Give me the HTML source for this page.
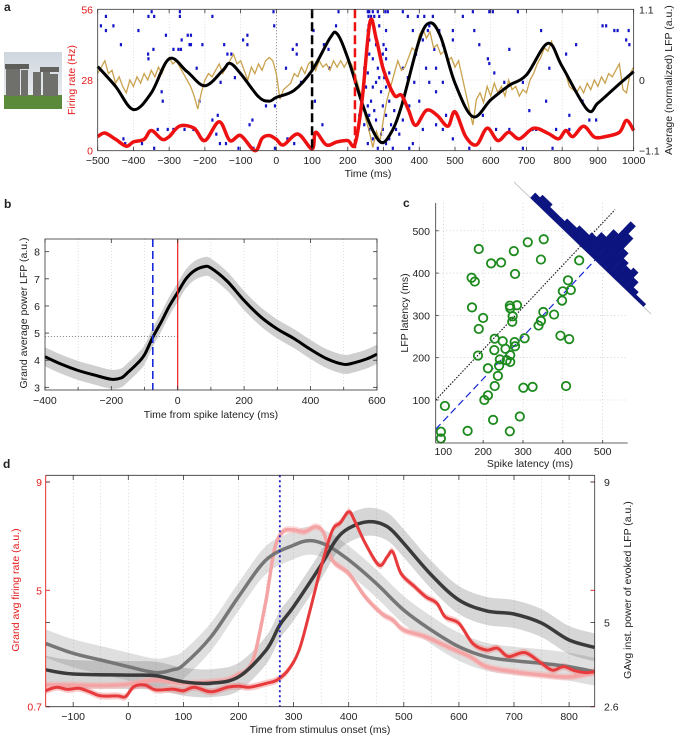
<!DOCTYPE html>
<html><head><meta charset="utf-8"><style>
html,body{margin:0;padding:0;background:#fff;}
svg{display:block;font-family:"Liberation Sans",sans-serif;}
</style></head><body>
<svg id="fig" width="676" height="736" viewBox="0 0 676 736" xmlns="http://www.w3.org/2000/svg"></svg>
<script>
// ---------- Panel a data ----------
const aLfpTimes=[-500,-450,-400,-350,-300,-250,-200,-150,-130,-100,-50,-20,0,50,100,150,170,200,250,290,320,350,400,430,460,500,550,600,650,700,760,800,870,900,950,1000];
const aLfpVals=[0.21,-0.10,-0.46,-0.20,0.33,0.13,-0.09,0.15,0.26,0.10,-0.26,-0.33,-0.27,-0.16,0.15,0.65,0.72,0.34,-0.52,-0.96,-0.83,-0.41,0.62,0.89,0.67,-0.05,-0.57,-0.31,-0.09,0.08,0.57,0.21,-0.46,-0.36,-0.11,0.13];
const aRateTimes=[-500,-480,-450,-420,-400,-370,-350,-320,-300,-270,-230,-200,-160,-130,-100,-60,-40,-20,0,20,60,100,110,140,170,200,220,240,262,280,300,330,350,370,390,420,450,480,500,530,560,590,620,650,680,720,760,790,810,830,860,890,920,960,980,1000];
const aRateVals=[5.6,7,4.5,1.8,3.5,4.5,8,4.5,5.6,9.8,8.9,4,11.5,4,6,0,4.9,6,4.5,2.3,6.6,0.7,7.3,2.3,3.5,4,2.6,20,51,44,32,22,22,16,10,16,14,9.7,15.4,5.6,2.3,8.9,4,7.3,4.7,8.9,6.9,4.7,8,5.6,9.7,5.4,5.6,7.3,12,8];
const aSingleTrialStart=-500, aSingleTrialStep=10;
const aSingleTrial=[0.1,0.2,0.3,0.1,0.15,-0.05,0.05,-0.1,-0.2,0.0,-0.1,0.05,-0.05,0.1,0.0,0.15,0.05,0.2,0.1,0.25,0.35,0.25,0.3,0.2,0.1,0.0,-0.1,-0.25,-0.45,-0.2,0.0,0.1,0.05,0.15,0.25,0.1,0.2,0.3,0.4,0.25,0.3,0.15,0.0,0.2,0.1,0.25,0.15,0.3,0.35,0.3,0.1,-0.3,-0.15,-0.1,-0.05,0.1,0.05,0.2,0.1,0.25,0.3,0.15,0.3,0.2,0.25,0.15,0.3,0.2,0.3,0.2,0.3,0.25,0.1,-0.1,-0.3,-0.6,-0.8,-1.05,-0.8,-0.95,-0.6,-0.3,-0.1,0.1,0.3,0.15,0.2,0.35,0.5,0.45,0.7,0.8,0.65,0.75,0.5,0.55,0.4,0.45,0.3,0.35,0.2,0.3,0.05,-0.2,-0.45,-0.7,-0.3,-0.2,-0.35,-0.1,-0.25,-0.05,-0.2,-0.1,-0.25,0.0,-0.15,-0.1,-0.25,-0.15,-0.2,0.0,0.1,0.25,0.35,0.5,0.45,0.6,0.45,0.3,0.2,0.1,-0.1,-0.15,-0.2,-0.1,-0.2,-0.05,-0.15,0.0,-0.1,0.05,-0.05,0.1,0.05,0.15,0.25,-0.15,-0.2,0.1,0.2];
const spikeTimes=[-491,-477,-477,-456,-435,-428,-423,-386,-376,-359,-358,-358,-349,-344,-342,-342,-332,-321,-318,-309,-304,-288,-288,-274,-270,-270,-265,-267,-257,-248,-243,-239,-239,-232,-223,-215,-207,-179,-179,-164,-168,-158,-156,-146,-141,-137,-126,-116,-106,-93,-81,-81,-75,-67,-64,-29,-8,-6,-4,-4,27,31,46,50,57,57,69,104,108,129,133,146,167,174,148,
256,260,270,284,305,312,258,265,274,288,258,288,256,307,260,279,300,307,260,298,270,307,246,284,256,316,288,302,279,251,270,307,242,293,265,316,256,298,330,274,232,260,307,279,246,321,298,260,335,293,270,316,256,307,284,326,
354,368,396,414,428,382,424,456,410,466,494,522,550,494,442,391,419,354,447,368,386,428,466,447,400,372,419,475,354,447,410,344,466,382,372,494,438,
554,568,592,596,610,638,578,615,606,676,652,652,690,708,717,727,741,755,764,783,811,820,839,857,876,895,913,923,946,955,979,986,988,820,773,690,540,596];
const spikeRows=[3,1,4,3,7,27,28,4,28,9,10,1,0,8,1,29,25,17,19,5,25,25,8,8,1,0,6,8,25,5,7,5,7,25,12,19,7,1,23,22,26,28,15,7,28,9,9,14,29,6,7,5,24,23,29,20,0,3,20,29,12,27,8,28,7,9,15,4,19,24,7,8,3,0,12,
0,0,0,0,0,0,1,1,1,1,3,3,4,4,6,7,7,8,9,9,10,10,12,12,13,13,14,14,15,16,16,16,17,17,19,19,20,20,21,21,22,22,22,23,24,24,25,25,25,26,27,27,28,28,29,29,
0,1,1,1,3,4,4,4,6,7,6,1,0,4,8,9,12,12,12,14,15,15,15,17,19,20,21,22,23,24,25,26,25,28,29,27,
1,4,7,10,11,13,15,22,25,0,0,8,25,15,21,25,25,4,19,12,25,9,25,7,19,23,23,3,3,4,4,6,4,7,22,29,29,29,0,19];
// ---------- Panel b data ----------
const bTimes=[-400,-350,-300,-250,-200,-170,-150,-120,-100,-75,-50,-25,0,25,50,80,100,150,200,250,300,350,400,450,500,530,570,600];
const bPower=[4.13,3.85,3.62,3.45,3.30,3.35,3.55,3.90,4.20,4.85,5.40,6.00,6.50,7.00,7.30,7.45,7.40,6.90,6.20,5.60,5.15,4.80,4.40,4.05,3.85,3.90,4.05,4.22];
const bSem=0.35, bCrossLevel=4.88, bSpikeLatencyLine=0, bLfpOnsetLine=-75;
const bXTicks=[-400,-200,0,200,400,600], bYTicks=[3,4,5,6,7,8];
// ---------- Panel c data ----------
const cSpikeLat=[189,220,245,277,312,352,345,441,280,171,179,413,398,400,420,172,267,268,285,200,274,273,351,345,378,339,189,229,249,279,280,304,394,416,228,256,187,268,242,259,268,240,212,237,229,301,324,408,212,203,104,225,292,161,267,94,94];
const cLfpLat=[457,423,425,452,473,480,432,430,398,389,380,383,335,357,360,319,323,317,324,294,298,285,308,287,302,276,268,245,239,237,227,246,252,244,218,221,205,206,196,194,190,181,175,157,133,129,131,133,111,100,86,53,61,27,26,25,9];
const cTicks=[100,200,300,400,500];
const cUnityRange=[81,531], cUnityOffset=19;
const cFitRange=[81,568], cFitOffset=-50;
const cHistCounts=[2,3,3,2,2,2,3,3,4,4,5,7,10,15,12,8,6,5,6,4,2,1,1];
// ---------- Panel d data ----------
const dTimesLfpA=[-150,-100,0,50,100,150,200,250,275,300,350,377,400,435,470,500,550,600,650,700,750,800,846];
const dLfpA=[3.65,3.53,3.50,3.48,3.31,3.27,3.45,4.21,4.93,5.45,6.64,7.35,7.68,7.87,7.73,7.25,6.35,5.64,5.33,5.24,4.98,4.50,4.29];
const dTimesLfpB=[-150,-100,-50,0,50,80,100,150,200,250,300,330,360,400,450,500,550,600,650,700,750,800,846];
const dLfpB=[4.40,4.12,3.93,3.74,3.57,3.65,3.79,4.59,5.73,6.78,7.20,7.33,7.20,6.78,6.11,5.35,4.78,4.31,4.02,3.91,3.84,3.74,3.60];
const dTimesRateA=[-150,-130,-110,-90,-70,-50,-20,-5,10,30,50,80,100,120,150,180,200,220,250,270,290,310,330,350,370,385,400,410,430,455,470,480,495,520,540,560,575,600,625,650,670,690,720,750,770,790,810,830,846];
const dRateA=[1.29,1.42,1.34,1.38,1.25,1.10,1.10,1.07,1.44,1.50,1.32,1.35,1.29,1.42,1.25,1.42,1.46,1.42,1.56,1.69,2.05,2.79,4.27,5.87,7.20,7.50,7.90,7.60,6.74,5.93,6.24,6.42,5.62,5.13,4.76,4.52,4.02,3.78,3.04,2.79,2.86,2.55,2.70,2.30,2.05,2.18,2.03,1.96,1.99];
const dTimesRateB=[-150,-100,-50,0,50,100,150,180,200,215,230,250,265,280,300,320,340,355,370,400,430,460,480,500,540,580,620,650,700,750,800,846];
const dRateB=[1.50,1.50,1.48,1.53,1.69,1.56,1.62,1.69,1.90,2.05,2.67,4.64,6.49,7.16,7.23,7.16,7.35,7.10,6.12,5.62,4.76,4.14,3.90,3.53,3.28,2.91,2.55,2.18,1.99,1.87,1.80,1.96];
const dOnsetLine=275;
const dXTicks=[-100,0,100,200,300,400,500,600,700,800];

// ---------- helpers ----------
const NS='http://www.w3.org/2000/svg';
const svg=document.getElementById('fig');
function mk(tag,attrs,parent){const e=document.createElementNS(NS,tag);for(const k in attrs)e.setAttribute(k,attrs[k]);(parent||svg).appendChild(e);return e;}
function grp(name){const g=document.createElementNS(NS,'g');


svg.appendChild(g);return g;}
function txt(g,x,y,s,size,opts){opts=opts||{};const t=mk('text',{x:x,y:y,'font-size':size,fill:opts.fill||'#222','text-anchor':opts.anchor||'middle'},g);
if(opts.rot)t.setAttribute('transform','rotate('+opts.rot+' '+x+' '+y+')');
if(opts.bold)t.setAttribute('font-weight','bold');
t.textContent=s;return t;}
function smooth(pts){let d='M'+pts[0][0].toFixed(1)+','+pts[0][1].toFixed(1);
for(let i=0;i<pts.length-1;i++){const p0=pts[Math.max(0,i-1)],p1=pts[i],p2=pts[i+1],p3=pts[Math.min(pts.length-1,i+2)];
const c1=[p1[0]+(p2[0]-p0[0])/6,p1[1]+(p2[1]-p0[1])/6],c2=[p2[0]-(p3[0]-p1[0])/6,p2[1]-(p3[1]-p1[1])/6];
d+='C'+c1[0].toFixed(1)+','+c1[1].toFixed(1)+' '+c2[0].toFixed(1)+','+c2[1].toFixed(1)+' '+p2[0].toFixed(1)+','+p2[1].toFixed(1);}return d;}
function band(ptsTop,ptsBot){const top=smooth(ptsTop);const rb=ptsBot.slice().reverse();const bot=smooth(rb).replace(/^M/,'L');return top+bot+'Z';}

// ---------- Panel a ----------
(function(){
const g=grp('panel-a');
const xa=t=>97.7+(t+500)*0.3573, yR=v=>150.7-v*2.525, yL=v=>80-v*64.3;
txt(g,4,11,'a',12,{anchor:'start',bold:true});
const img=mk('g',{},g);


const grad=mk('linearGradient',{id:'sky',x1:0,y1:0,x2:0,y2:1},mk('defs',{},img));
mk('stop',{offset:'0','stop-color':'#cfd6de'},grad);mk('stop',{offset:'1','stop-color':'#eef1f3'},grad);
mk('rect',{x:4,y:52,width:58,height:57,fill:'url(#sky)'},img);
mk('rect',{x:4,y:95,width:58,height:14,fill:'#5a8a3a'},img);
[[6,68,8,28],[14,66,6,30],[21,70,7,26],[33,72,8,24],[43,70,7,26],[50,74,8,22]].forEach(r=>mk('rect',{x:r[0],y:r[1],width:r[2],height:r[3],fill:'#6f706c'},img));
mk('rect',{x:5,y:64,width:24,height:5,fill:'#5e5f5b'},img);mk('rect',{x:40,y:67,width:19,height:5,fill:'#62635f'},img);
for(let t=-400;t<=900;t+=100){mk('line',{x1:xa(t),y1:9.3,x2:xa(t),y2:150.7,stroke:'#c8c8c8','stroke-width':0.6,'stroke-dasharray':'1,2'},g);}
mk('line',{x1:xa(-500),y1:yL(0),x2:xa(1000),y2:yL(0),stroke:'#c8c8c8','stroke-width':0.6,'stroke-dasharray':'1,2'},g);
mk('line',{x1:xa(0),y1:9.3,x2:xa(0),y2:150.7,stroke:'#555','stroke-width':0.7,'stroke-dasharray':'1,2'},g);
for(let i=0;i<spikeTimes.length;i++){const r=mk('rect',{x:xa(spikeTimes[i])-1.1,y:11.7+spikeRows[i]*4.71-1.6,width:2.2,height:3.2,fill:'#1515c8'},g);

}
let pts=aSingleTrial.map((v,i)=>[xa(aSingleTrialStart+i*aSingleTrialStep),yL(v)]);
const st=mk('polyline',{points:pts.map(p=>p.join(',')).join(' '),fill:'none',stroke:'#c9a24e','stroke-width':1.3},g);

const al=mk('path',{d:smooth(aLfpTimes.map((t,i)=>[xa(t),yL(aLfpVals[i])])),fill:'none',stroke:'#000','stroke-width':3},g);

const fr=mk('path',{d:smooth(aRateTimes.map((t,i)=>[xa(t),yR(aRateVals[i])])),fill:'none',stroke:'#ee1111','stroke-width':3.5},g);

const b1=mk('line',{x1:xa(100),y1:9.3,x2:xa(100),y2:150.7,stroke:'#000','stroke-width':2.5,'stroke-dasharray':'9,4'},g);

const r1=mk('line',{x1:xa(220),y1:9.3,x2:xa(220),y2:150.7,stroke:'#ee1111','stroke-width':2.5,'stroke-dasharray':'9,4'},g);

mk('rect',{x:xa(-500),y:9.3,width:xa(1000)-xa(-500),height:141.4,fill:'none',stroke:'#333','stroke-width':0.8},g);
for(let t=-500;t<=1000;t+=100){mk('line',{x1:xa(t),y1:150.7,x2:xa(t),y2:146.7,stroke:'#333','stroke-width':0.8},g);mk('line',{x1:xa(t),y1:9.3,x2:xa(t),y2:13.3,stroke:'#333','stroke-width':0.8},g);
txt(g,xa(t),164,(t<0?'\u2212'+(-t):''+t),10.5);}
txt(g,368,177,'Time (ms)',10.5);
[[0,'0'],[28,'28'],[56,'56']].forEach(a=>txt(g,93,yR(a[0])+4,a[1],10.5,{anchor:'end',fill:'#e41a1a'}));
txt(g,75,80,'Firing rate (Hz)',10.5,{fill:'#e41a1a',rot:-90});
[[1.1,'1.1'],[0,'0'],[-1.1,'\u22121.1']].forEach(a=>txt(g,639,yL(a[0])+4,a[1],10.5,{anchor:'start'}));
txt(g,672,80,'Average (normalized) LFP (a.u.)',10.5,{rot:-90});
})();

// ---------- Panel b ----------
(function(){
const g=grp('panel-b');
const xb=t=>177.7+t*0.332, yb=v=>251.7-(v-8)*27.13;
txt(g,4,208,'b',12,{anchor:'start',bold:true});
for(let t=-300;t<=500;t+=100){mk('line',{x1:xb(t),y1:239,x2:xb(t),y2:390,stroke:'#c8c8c8','stroke-width':0.6,'stroke-dasharray':'1,2'},g);}
const top=bTimes.map((t,i)=>[xb(t),yb(bPower[i]+bSem)]), bot=bTimes.map((t,i)=>[xb(t),yb(bPower[i]-bSem)]);
const bd=mk('path',{d:band(top,bot),fill:'#cfcfcf'},g);

mk('line',{x1:xb(-400),y1:yb(bCrossLevel),x2:xb(bSpikeLatencyLine),y2:yb(bCrossLevel),stroke:'#555','stroke-width':0.8,'stroke-dasharray':'1,2'},g);
const ln=mk('path',{d:smooth(bTimes.map((t,i)=>[xb(t),yb(bPower[i])])),fill:'none',stroke:'#000','stroke-width':3},g);

const bl=mk('line',{x1:xb(bLfpOnsetLine),y1:239,x2:xb(bLfpOnsetLine),y2:390,stroke:'#1a2ad8','stroke-width':1.6,'stroke-dasharray':'8,4'},g);

const rl=mk('line',{x1:xb(bSpikeLatencyLine),y1:239,x2:xb(bSpikeLatencyLine),y2:390,stroke:'#e82020','stroke-width':1.2},g);

mk('rect',{x:45,y:239,width:332,height:151,fill:'none',stroke:'#333','stroke-width':0.8},g);
bXTicks.forEach(t=>{mk('line',{x1:xb(t),y1:390,x2:xb(t),y2:386,stroke:'#333','stroke-width':0.8},g);mk('line',{x1:xb(t),y1:239,x2:xb(t),y2:243,stroke:'#333','stroke-width':0.8},g);txt(g,xb(t),404,(t<0?'\u2212'+(-t):''+t),10.5);});
for(let t=-300;t<=500;t+=200){mk('line',{x1:xb(t),y1:390,x2:xb(t),y2:387,stroke:'#333','stroke-width':0.8},g);}
bYTicks.forEach(v=>{mk('line',{x1:45,y1:yb(v),x2:49,y2:yb(v),stroke:'#333','stroke-width':0.8},g);mk('line',{x1:377,y1:yb(v),x2:373,y2:yb(v),stroke:'#333','stroke-width':0.8},g);txt(g,40,yb(v)+4,''+v,10.5,{anchor:'end'});});
txt(g,211,418,'Time from spike latency (ms)',10.5);
txt(g,27,313,'Grand average power LFP (a.u.)',10.5,{rot:-90});
})();

// ---------- Panel c ----------
(function(){
const g=grp('panel-c');
const xc=v=>443.3+(v-100)*0.3985, yc=v=>400-(v-100)*0.423;
txt(g,403,207,'c',12,{anchor:'start',bold:true});
cTicks.forEach(v=>{mk('line',{x1:xc(v),y1:203,x2:xc(v),y2:443,stroke:'#bbb','stroke-width':0.6,'stroke-dasharray':'1,2.5'},g);
mk('line',{x1:435.7,y1:yc(v),x2:627.7,y2:yc(v),stroke:'#bbb','stroke-width':0.6,'stroke-dasharray':'1,2.5'},g);
mk('line',{x1:xc(v),y1:443,x2:xc(v),y2:440,stroke:'#333','stroke-width':0.8},g);
mk('line',{x1:435.7,y1:yc(v),x2:438.7,y2:yc(v),stroke:'#333','stroke-width':0.8},g);
txt(g,xc(v),455,''+v,10.5);txt(g,430,yc(v)+4,''+v,10.5,{anchor:'end'});});
const ul=mk('line',{x1:xc(cUnityRange[0]),y1:yc(cUnityRange[0]+cUnityOffset),x2:xc(cUnityRange[1]),y2:yc(cUnityRange[1]+cUnityOffset),stroke:'#111','stroke-width':1.1,'stroke-dasharray':'1.5,1.5'},g);

const fl=mk('line',{x1:xc(cFitRange[0]),y1:yc(cFitRange[0]+cFitOffset),x2:xc(cFitRange[1]),y2:yc(cFitRange[1]+cFitOffset),stroke:'#1a2ad8','stroke-width':1.2,'stroke-dasharray':'7,4'},g);

const S=[518,186],E=[648,311];const L=Math.hypot(E[0]-S[0],E[1]-S[1]);const u=[(E[0]-S[0])/L,(E[1]-S[1])/L],n=[u[1],-u[0]];
mk('line',{x1:S[0]-4,y1:S[1]-4,x2:E[0]+3,y2:E[1]+3,stroke:'#aaa','stroke-width':0.6},g);
const s0=0.095*L,bw=(0.965-0.095)*L/cHistCounts.length;
cHistCounts.forEach((c,i)=>{const a=s0+i*bw,b=a+bw,h=c*3.5;
const p1=[S[0]+u[0]*a,S[1]+u[1]*a],p2=[S[0]+u[0]*b,S[1]+u[1]*b];
const hb=mk('polygon',{points:[p1,[p1[0]+n[0]*h,p1[1]+n[1]*h],[p2[0]+n[0]*h,p2[1]+n[1]*h],p2].map(p=>p[0].toFixed(1)+','+p[1].toFixed(1)).join(' '),fill:'#0c1480',stroke:'#0c1480','stroke-width':0.4},g);

});
cSpikeLat.forEach((x,i)=>{const c=mk('circle',{cx:xc(x),cy:yc(cLfpLat[i]),r:4.2,fill:'none',stroke:'#1c8a1c','stroke-width':1.8},g);

});
mk('line',{x1:435.7,y1:203,x2:435.7,y2:443,stroke:'#333','stroke-width':0.8},g);
mk('line',{x1:435.7,y1:443,x2:627.7,y2:443,stroke:'#333','stroke-width':0.8},g);
txt(g,530,467,'Spike latency (ms)',10.5);
txt(g,408,313,'LFP latency (ms)',10.5,{rot:-90});
})();

// ---------- Panel d ----------
(function(){
const g=grp('panel-d');
const xd=t=>128.3+t*0.551, yL=v=>482+(9-v)/8.3*224.7, yR=v=>482+(9-v)/6.4*224.7;
txt(g,3,468,'d',12,{anchor:'start',bold:true});
for(let t=-100;t<=800;t+=50){mk('line',{x1:xd(t),y1:475.3,x2:xd(t),y2:706.7,stroke:'#c0c0c0','stroke-width':0.6,'stroke-dasharray':'1,2.5'},g);}
function series(times,vals,ymap,hw,col,bandCol,w,name){
 const top=times.map((t,i)=>[xd(t),ymap(vals[i])-hw]),bot=times.map((t,i)=>[xd(t),ymap(vals[i])+hw]);
 const b=mk('path',{d:band(top,bot),fill:bandCol},g);
 
 
 return ()=>{const l=mk('path',{d:smooth(times.map((t,i)=>[xd(t),ymap(vals[i])])),fill:'none',stroke:col,'stroke-width':w,'stroke-linejoin':'round'},g);
 
 };
}
const l1=series(dTimesLfpB,dLfpB,yR,14,'#767676','rgba(150,150,150,0.3)',3.5,'lfp-power-early');
const l2=series(dTimesLfpA,dLfpA,yR,14,'#3a3a3a','rgba(120,120,120,0.3)',3.5,'lfp-power-late');
const l3=series(dTimesRateB,dRateB,yL,3.5,'#f4a4a4','rgba(250,170,170,0.45)',3.5,'firing-rate-early');
const l4=series(dTimesRateA,dRateA,yL,3.5,'#e63a3c','rgba(240,120,120,0.4)',3,'firing-rate-late');
l3();l1();l2();l4();
const ol=mk('line',{x1:xd(dOnsetLine),y1:475.3,x2:xd(dOnsetLine),y2:706.7,stroke:'#1a1ad0','stroke-width':1.8,'stroke-dasharray':'2,3'},g);

mk('line',{x1:45.7,y1:475.3,x2:594.7,y2:475.3,stroke:'#333','stroke-width':0.8},g);
mk('line',{x1:45.7,y1:706.7,x2:594.7,y2:706.7,stroke:'#333','stroke-width':0.8},g);
mk('line',{x1:45.7,y1:475.3,x2:45.7,y2:706.7,stroke:'#e41a1a','stroke-width':0.9},g);
mk('line',{x1:594.7,y1:475.3,x2:594.7,y2:706.7,stroke:'#333','stroke-width':0.8},g);
dXTicks.forEach(t=>{mk('line',{x1:xd(t),y1:706.7,x2:xd(t),y2:702,stroke:'#333','stroke-width':0.8},g);mk('line',{x1:xd(t),y1:475.3,x2:xd(t),y2:480,stroke:'#333','stroke-width':0.8},g);txt(g,xd(t),720,(t<0?'\u2212'+(-t):''+t),10.5);});
[[9,'9'],[5,'5'],[0.7,'0.7']].forEach(a=>{mk('line',{x1:45.7,y1:yL(a[0]),x2:50,y2:yL(a[0]),stroke:'#e41a1a','stroke-width':0.9},g);mk('line',{x1:594.7,y1:yL(a[0]),x2:590.5,y2:yL(a[0]),stroke:'#e41a1a','stroke-width':0.9},g);txt(g,42,yL(a[0])+4,a[1],10.5,{anchor:'end',fill:'#e41a1a'});});
[[9,'9'],[5,'5'],[2.6,'2.6']].forEach(a=>{mk('line',{x1:594.7,y1:yR(a[0]),x2:590.5,y2:yR(a[0]),stroke:'#333','stroke-width':0.8},g);mk('line',{x1:45.7,y1:yR(a[0]),x2:50,y2:yR(a[0]),stroke:'#333','stroke-width':0.8},g);txt(g,604,yR(a[0])+4,a[1],10.5,{anchor:'start'});});
txt(g,320,733,'Time from stimulus onset (ms)',10.5);
txt(g,19,590,'Grand avg firing rate (a.u.)',10.5,{fill:'#e41a1a',rot:-90});
txt(g,631,590,'GAvg inst. power of evoked LFP (a.u.)',10.5,{rot:-90});
})();
</script>
</body></html>
